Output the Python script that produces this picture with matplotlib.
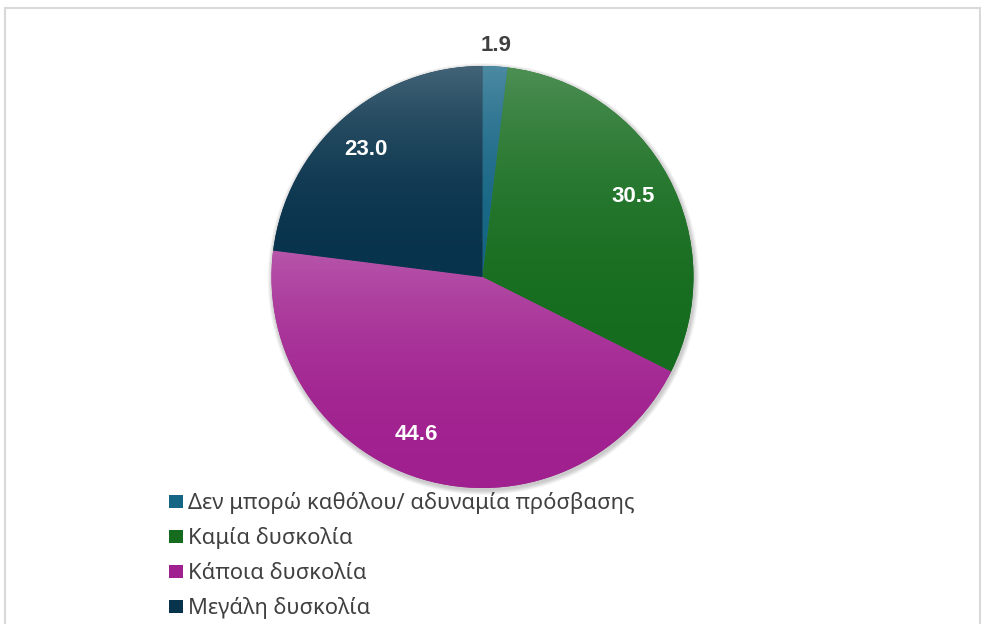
import numpy as np
import matplotlib
matplotlib.use("Agg")
import matplotlib.pyplot as plt
from matplotlib.patches import Rectangle, Circle
from matplotlib.colors import to_rgb

# ---- data ----
categories = ["Δεν μπορώ καθόλου/ αδυναμία πρόσβασης", "Καμία δυσκολία",
              "Κάποια δυσκολία", "Μεγάλη δυσκολία"]
values = [1.9, 30.5, 44.6, 23.0]
colors = ["#156585", "#156C1E", "#A0208F", "#08334C"]
label_texts = ["1.9", "30.5", "44.6", "23.0"]

W, H = 981, 624
fig = plt.figure(figsize=(W / 100, H / 100), dpi=100)
fig.patch.set_facecolor("white")
ax = fig.add_axes([0, 0, 1, 1])
ax.set_xlim(0, W)
ax.set_ylim(0, H)
ax.set_aspect("equal")
ax.axis("off")

# chart frame
fig.patches.append(Rectangle((5 / W, -0.05), (975 / W), (H - 8) / H + 0.05,
                             transform=fig.transFigure, fill=False,
                             edgecolor="#d9d9d9", linewidth=1.5, zorder=0))

cx, cy, R = 482.5, H - 277, 211

# soft shadow
for k in range(6, 0, -1):
    ax.add_patch(Circle((cx + 1, cy - 2), R + k * 0.8, facecolor="#000000",
                        edgecolor="none", alpha=0.035, zorder=1))

wedges, _ = ax.pie(values, colors=colors, startangle=90, counterclock=False,
                   center=(cx, cy), radius=R, frame=True,
                   wedgeprops=dict(linewidth=0, zorder=2))
ax.set_xlim(0, W)
ax.set_ylim(0, H)
ax.axis("off")


def lighten(c, f):
    c = np.array(to_rgb(c))
    return c + (1 - c) * f


# per-slice vertical gradient (light only near the top)
for w, c in zip(wedges, colors):
    v = w.get_path().vertices
    y0, y1 = v[:, 1].min(), v[:, 1].max()
    x0, x1 = v[:, 0].min(), v[:, 0].max()
    n = 256
    t = np.linspace(0, 1, n)[:, None]  # 0 bottom, 1 top
    top = lighten(c, 0.24)
    bot = np.array(to_rgb(c))
    f = t ** 2.2
    grad = bot[None, :] * (1 - f) + top[None, :] * f
    img = np.repeat(grad[:, None, :], 2, axis=1)
    im = ax.imshow(img, extent=[x0, x1, y0, y1], origin="lower",
                   aspect="auto", zorder=3, interpolation="bilinear")
    im.set_clip_path(w)

ax.set_xlim(0, W)
ax.set_ylim(0, H)

# data labels
dist = [1.10, 0.81, 0.81, 0.82]
ang_adj = [0, 0, -6, 1]
for w, txt, d, a in zip(wedges, label_texts, dist, ang_adj):
    mid = np.deg2rad((w.theta1 + w.theta2) / 2 + a)
    x = cx + d * R * np.cos(mid)
    y = cy + d * R * np.sin(mid)
    col = "#404040" if d > 1 else "white"
    ax.text(x, y, txt, ha="center", va="center", fontsize=16,
            fontweight="bold", color=col, family="Liberation Sans", zorder=5)

# legend
leg_base0 = H - 509
leg_dy = 35
for i, (lab, c) in enumerate(zip(categories, colors)):
    yb = leg_base0 - i * leg_dy
    ax.add_patch(Rectangle((169, yb + 1.5), 14, 13, facecolor=c,
                           edgecolor="none", zorder=5))
    ax.text(188, yb, lab, ha="left", va="baseline", fontsize=15.8,
            color="#404040", family="Noto Sans", zorder=5)

fig.savefig("out.png", dpi=100)
